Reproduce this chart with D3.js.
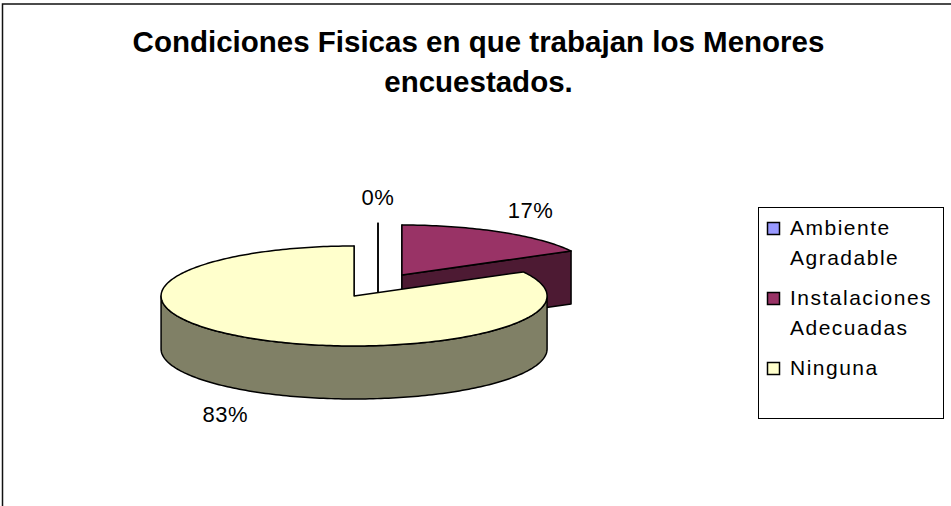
<!DOCTYPE html>

<html lang='es'>
	<head>
		<meta charset="utf-8">
		<title>Condiciones Fisicas</title>
		<script type="text/javascript" src="https://cdn.jsdelivr.net/npm/d3@7/dist/d3.min.js"></script>
		<style>
			body { margin: 0; background: #fff; }
			text { font-family: Arial, "Liberation Sans", sans-serif; fill: #000; }
		</style>
	</head>
	<body>
		<div id="chart"></div>
		<script type="text/javascript">
			// datos del grafico
			var categorias = ["Ambiente Agradable", "Instalaciones Adecuadas", "Ninguna"];
			var porcentajes = [0, 17, 83];
			var etiquetas = ["0%", "17%", "83%"];
			var colores = ["#9999FF", "#993366", "#FFFFCC"];
			var coloresLado = ["#4D4D80", "#4D1A33", "#808066"];
			var titulo = ["Condiciones Fisicas en que trabajan los Menores", "encuestados."];

			var w = 951;
			var h = 506;

			// geometria del pastel 3D
			var cx = 378, cy = 285.5;
			var rx = 193, ry = 50;
			var depth = 53;
			var explode = 47;

			var svg = d3.select("#chart").append("svg")
				.attr("width", w)
				.attr("height", h);

			// marco
			svg.append("path")
				.attr("d", "M2.5," + h + "V4H" + w)
				.attr("fill", "none")
				.attr("stroke", "#111")
				.attr("stroke-width", 1.5);

			svg.selectAll(".titulo")
				.data(titulo)
				.enter()
				.append("text")
				.attr("class", "titulo")
				.attr("x", 478.5)
				.attr("y", function(d, i) { return 52 + i * 40; })
				.attr("text-anchor", "middle")
				.attr("font-size", "29.5px")
				.attr("font-weight", "bold")
				.text(function(d) { return d; });

			var pie = d3.pie().sort(null).value(function(d) { return d; });
			var arcs = pie(porcentajes);

			var rScale = d3.scaleLinear().domain([0, 1]).range([0, rx]);

			var project = function(c, a, r, z) {
				return [c[0] + rScale(r) * Math.sin(a), c[1] - rScale(r) * Math.cos(a) * (ry / rx) + z];
			};

			arcs.forEach(function(d, i) {
				var mid = (d.startAngle + d.endAngle) / 2;
				d.i = i;
				d.mid = mid;
				d.c = [cx + explode * Math.sin(mid), cy - explode * Math.cos(mid) * (ry / rx)];
			});

			var rim = function(c, a0, a1, z) {
				var n = Math.max(2, Math.ceil(Math.abs(a1 - a0) / 0.02));
				return d3.range(n + 1).map(function(k) {
					return project(c, a0 + (a1 - a0) * k / n, 1, z);
				});
			};

			var line = d3.line();

			// de atras hacia adelante
			var orden = arcs.slice().sort(function(a, b) { return a.c[1] - b.c[1]; });

			orden.forEach(function(d) {
				var g = svg.append("g");
				var c = d.c;
				var apex = project(c, 0, 0, 0);
				var apexB = project(c, 0, 0, depth);

				// caras de corte
				[d.startAngle, d.endAngle].forEach(function(a, k) {
					var s = Math.sin(a);
					var visible = k === 1 ? s >= -1e-9 : s <= 1e-9;
					if (!visible) return;
					var p = project(c, a, 1, 0), pb = project(c, a, 1, depth);
					g.append("path")
						.attr("d", line([apex, p, pb, apexB]) + "Z")
						.attr("fill", coloresLado[d.i])
						.attr("stroke", "#000")
						.attr("stroke-width", 1.5)
						.attr("stroke-linejoin", "round");
				});

				// lado exterior
				var a0 = Math.max(d.startAngle, Math.PI / 2);
				var a1 = Math.min(d.endAngle, 3 * Math.PI / 2);
				if (a1 > a0) {
					var pts = rim(c, a0, a1, 0).concat(rim(c, a1, a0, depth));
					g.append("path")
						.attr("d", line(pts) + "Z")
						.attr("fill", coloresLado[d.i])
						.attr("stroke", "#000")
						.attr("stroke-width", 1.5)
						.attr("stroke-linejoin", "round");
				}

				// cara superior
				if (d.endAngle > d.startAngle) {
					var top = [apex].concat(rim(c, d.startAngle, d.endAngle, 0));
					g.append("path")
						.attr("d", line(top) + "Z")
						.attr("fill", colores[d.i])
						.attr("stroke", "#000")
						.attr("stroke-width", 1.5)
						.attr("stroke-linejoin", "round");
				}
			});

			// etiquetas de porcentaje
			svg.selectAll(".pct")
				.data(arcs)
				.enter()
				.append("text")
				.attr("class", "pct")
				.attr("x", function(d) { return d.c[0] + 1.31 * rx * Math.sin(d.mid); })
				.attr("y", function(d) {
					var cm = Math.cos(d.mid);
					return d.c[1] - 1.31 * (ry + 8) * cm + (cm < 0 ? depth : 0) + 8;
				})
				.attr("text-anchor", "middle")
				.attr("font-size", "22px")
				.attr("letter-spacing", "0.5px")
				.text(function(d, i) { return etiquetas[i]; });

			// leyenda
			var legend = svg.append("g");
			legend.append("rect")
				.attr("x", 758.5)
				.attr("y", 207.5)
				.attr("width", 185)
				.attr("height", 211)
				.attr("fill", "#fff")
				.attr("stroke", "#000")
				.attr("stroke-width", 1);

			var items = legend.selectAll(".item")
				.data(categorias)
				.enter()
				.append("g")
				.attr("class", "item")
				.attr("transform", function(d, i) { return "translate(0," + (i * 70) + ")"; });

			items.append("rect")
				.attr("x", 767.5)
				.attr("y", 222.5)
				.attr("width", 12)
				.attr("height", 12)
				.attr("fill", function(d, i) { return colores[i]; })
				.attr("stroke", "#000")
				.attr("stroke-width", 1.5);

			items.selectAll("text")
				.data(function(d) { return d.split(" "); })
				.enter()
				.append("text")
				.attr("x", 790)
				.attr("y", function(d, j) { return 235 + j * 30; })
				.attr("font-size", "21px")
				.attr("letter-spacing", "1.5px")
				.text(function(d) { return d; });
		</script>
	</body>
</html>
